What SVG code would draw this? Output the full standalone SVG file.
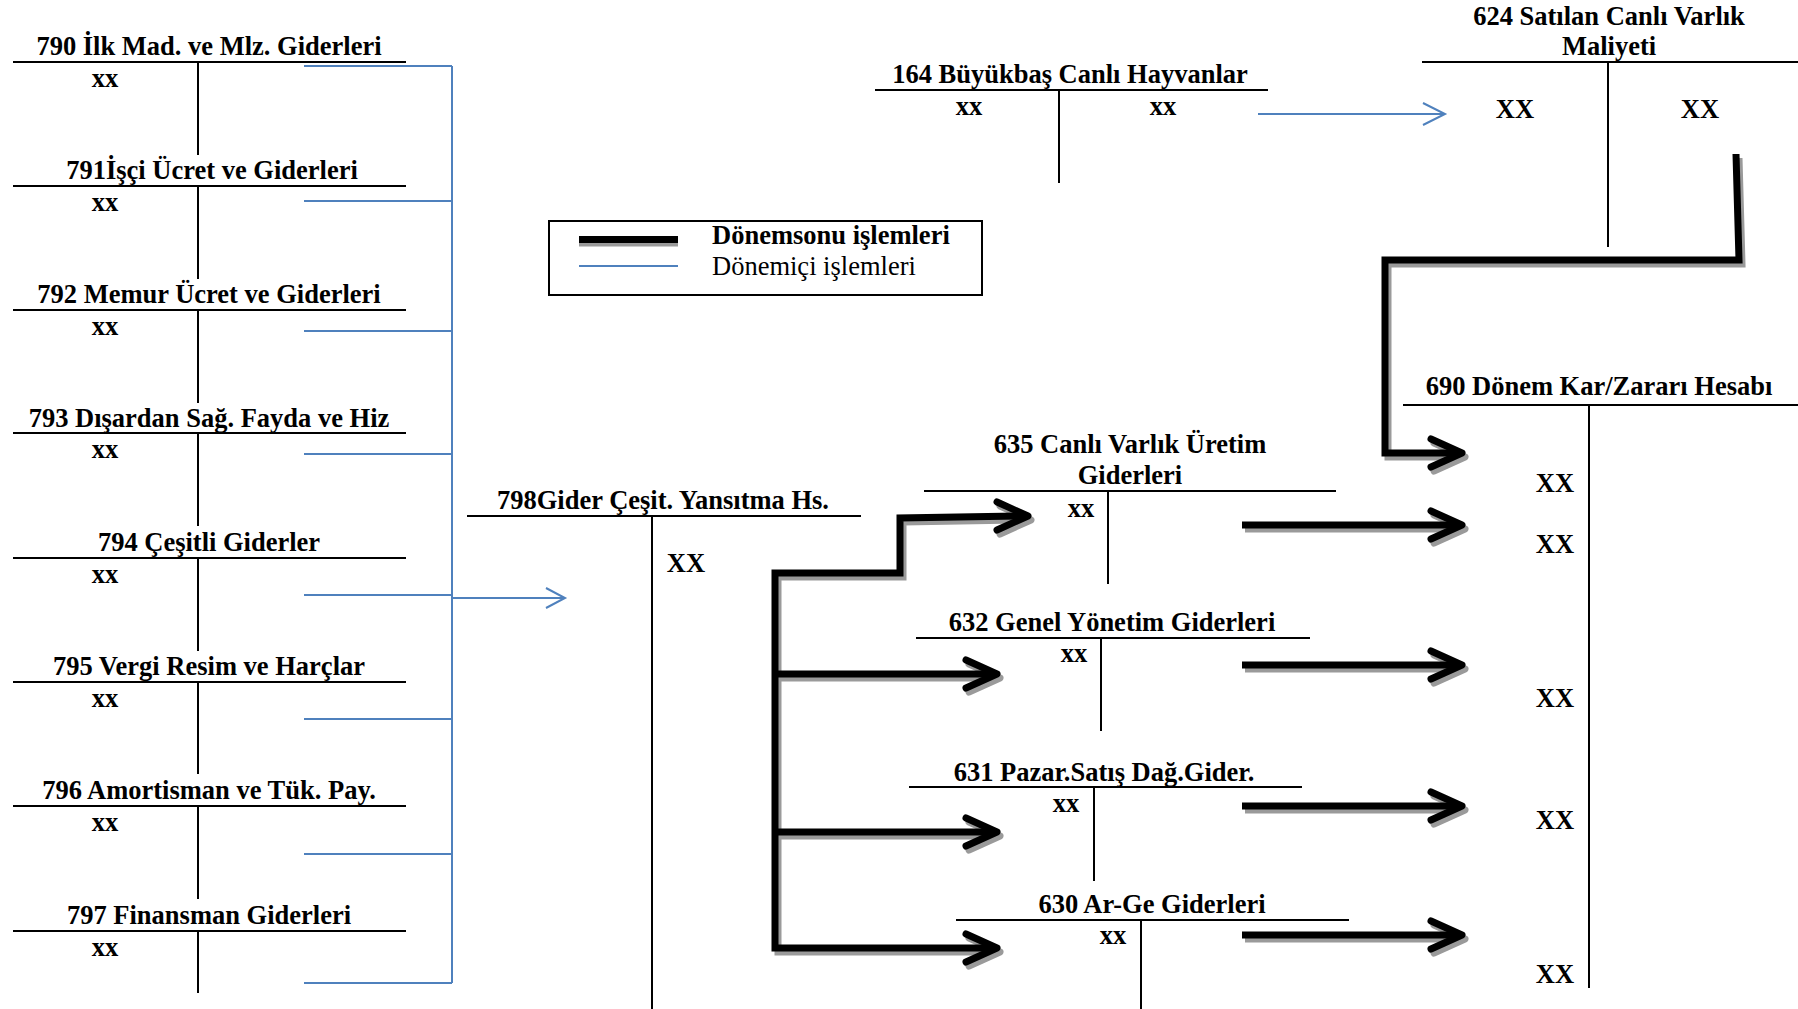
<svg xmlns="http://www.w3.org/2000/svg" xmlns:xlink="http://www.w3.org/1999/xlink" width="1798" height="1009" viewBox="0 0 1798 1009">
<style>
text{font-family:"Liberation Serif","Times New Roman",serif;font-size:26.5px;font-weight:bold;fill:#000}
.m{text-anchor:middle}
.reg{font-weight:normal}
.t{stroke:#000;stroke-width:2;fill:none}
.blue{stroke:#4f81bd;stroke-width:2;fill:none}
.thick{stroke-width:7;fill:none;stroke-linejoin:miter;stroke-linecap:butt}
.head{stroke-width:7;fill:none;stroke-linejoin:round;stroke-linecap:round}
.sh{stroke:#9a9a9a}
.bk{stroke:#000}
</style>
<defs>
<g id="thickLines">
<path class="thick" d="M1736,154 L1739,260 L1385,260 L1385,453 L1456,453"/>
<path class="thick" d="M990,948 L775,948 L775,573 L900,573 L900,518 L1022,516"/>
<path class="thick" d="M775,674 L991,674"/>
<path class="thick" d="M775,832 L991,832"/>
<path class="thick" d="M1242,525 L1456,525"/>
<path class="thick" d="M1242,665 L1456,665"/>
<path class="thick" d="M1242,806 L1456,806"/>
<path class="thick" d="M1242,935 L1456,935"/>
<path class="head" d="M1431,439 L1462,453 L1431,467"/>
<path class="head" d="M997,502 L1028,516 L997,530"/>
<path class="head" d="M966,660 L997,674 L966,688"/>
<path class="head" d="M966,818 L997,832 L966,846"/>
<path class="head" d="M966,934 L997,948 L966,962"/>
<path class="head" d="M1431,511 L1462,525 L1431,539"/>
<path class="head" d="M1431,651 L1462,665 L1431,679"/>
<path class="head" d="M1431,792 L1462,806 L1431,820"/>
<path class="head" d="M1431,921 L1462,935 L1431,949"/>
</g>
</defs>
<rect width="1798" height="1009" fill="#fff"/>

<g id="connectors">
<use xlink:href="#thickLines" href="#thickLines" class="sh" transform="translate(3,4)"/>
<use xlink:href="#thickLines" href="#thickLines" class="bk"/>
<path class="blue" d="M304,66 H452 M304,201 H452 M304,331 H452 M304,454 H452 M304,595 H452 M304,719 H452 M304,854 H452 M304,983 H452 M452,66 V983"/>
<path class="blue" d="M452,598 H563 M546,588 L565,598 L546,608"/>
<path class="blue" d="M1258,114 H1443 M1423,103 L1445,114 L1423,125"/>
</g>

<g id="legend">
<rect x="549" y="221" width="433" height="74" fill="none" stroke="#000" stroke-width="2"/>
<path d="M579,244 H678" stroke="#9a9a9a" stroke-width="5" fill="none"/>
<path d="M579,239.5 H678" stroke="#000" stroke-width="7" fill="none"/>
<path class="blue" d="M579,266 H678"/>
<text x="712" y="244">Dönemsonu işlemleri</text>
<text x="712" y="275" class="reg">Dönemiçi işlemleri</text>
</g>

<g id="a790">
<path class="t" d="M13,62 H406 M198,62 V155"/>
<text x="209" y="55" class="m">790 İlk Mad. ve Mlz. Giderleri</text>
<text x="105" y="87" class="m">xx</text>
</g>
<g id="a791">
<path class="t" d="M13,186 H406 M198,186 V279"/>
<text x="212" y="179" class="m">791İşçi Ücret ve Giderleri</text>
<text x="105" y="211" class="m">xx</text>
</g>
<g id="a792">
<path class="t" d="M13,310 H406 M198,310 V403"/>
<text x="209" y="303" class="m">792 Memur Ücret ve Giderleri</text>
<text x="105" y="335" class="m">xx</text>
</g>
<g id="a793">
<path class="t" d="M13,433 H406 M198,433 V526"/>
<text x="209" y="427" class="m">793 Dışardan Sağ. Fayda ve Hiz</text>
<text x="105" y="458" class="m">xx</text>
</g>
<g id="a794">
<path class="t" d="M13,558 H406 M198,558 V651"/>
<text x="209" y="551" class="m">794 Çeşitli Giderler</text>
<text x="105" y="583" class="m">xx</text>
</g>
<g id="a795">
<path class="t" d="M13,682 H406 M198,682 V774"/>
<text x="209" y="675" class="m">795 Vergi Resim ve Harçlar</text>
<text x="105" y="707" class="m">xx</text>
</g>
<g id="a796">
<path class="t" d="M13,806 H406 M198,806 V899"/>
<text x="209" y="799" class="m">796 Amortisman ve Tük. Pay.</text>
<text x="105" y="831" class="m">xx</text>
</g>
<g id="a797">
<path class="t" d="M13,931 H406 M198,931 V993"/>
<text x="209" y="924" class="m">797 Finansman Giderleri</text>
<text x="105" y="956" class="m">xx</text>
</g>

<g id="a164">
<path class="t" d="M875,90 H1268 M1059,90 V183"/>
<text x="1070" y="83" class="m">164 Büyükbaş Canlı Hayvanlar</text>
<text x="969" y="115" class="m">xx</text>
<text x="1163" y="115" class="m">xx</text>
</g>

<g id="a624">
<path class="t" d="M1422,62 H1798 M1608,62 V247"/>
<text x="1609" y="25" class="m">624 Satılan Canlı Varlık</text>
<text x="1609" y="55" class="m">Maliyeti</text>
<text x="1515" y="118" class="m">XX</text>
<text x="1700" y="118" class="m">XX</text>
</g>

<g id="a690">
<path class="t" d="M1403,405 H1798 M1589,405 V988"/>
<text x="1599" y="395" class="m">690 Dönem Kar/Zararı Hesabı</text>
<text x="1555" y="492" class="m">XX</text>
<text x="1555" y="553" class="m">XX</text>
<text x="1555" y="707" class="m">XX</text>
<text x="1555" y="829" class="m">XX</text>
<text x="1555" y="983" class="m">XX</text>
</g>

<g id="a798">
<path class="t" d="M467,516 H861 M652,516 V1009"/>
<text x="663" y="509" class="m">798Gider Çeşit. Yansıtma Hs.</text>
<text x="686" y="572" class="m">XX</text>
</g>

<g id="a635">
<path class="t" d="M924,491 H1336 M1108,491 V584"/>
<text x="1130" y="453" class="m">635 Canlı Varlık Üretim</text>
<text x="1130" y="484" class="m">Giderleri</text>
<text x="1081" y="517" class="m">xx</text>
</g>

<g id="a632">
<path class="t" d="M916,638 H1310 M1101,638 V731"/>
<text x="1112" y="631" class="m">632 Genel Yönetim Giderleri</text>
<text x="1074" y="662" class="m">xx</text>
</g>

<g id="a631">
<path class="t" d="M909,787 H1302 M1094,787 V881"/>
<text x="1104" y="781" class="m">631 Pazar.Satış Dağ.Gider.</text>
<text x="1066" y="812" class="m">xx</text>
</g>

<g id="a630">
<path class="t" d="M956,920 H1349 M1141,920 V1009"/>
<text x="1152" y="913" class="m">630 Ar-Ge Giderleri</text>
<text x="1113" y="944" class="m">xx</text>
</g>
</svg>
